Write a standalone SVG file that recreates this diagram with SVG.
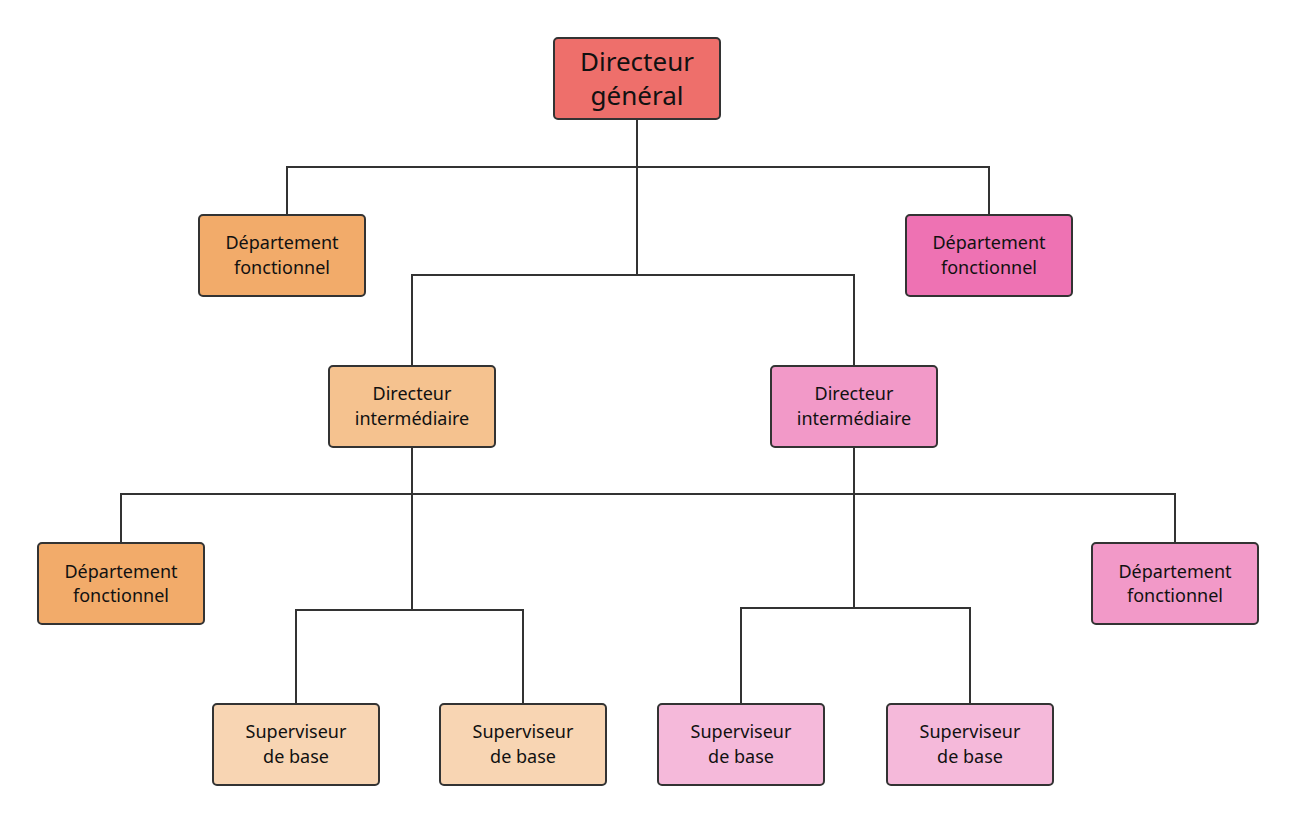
<svg xmlns="http://www.w3.org/2000/svg" width="1296" height="822" viewBox="0 0 1296 822">
<style>
.n{stroke:#333;stroke-width:2}
.t{font-family:"Noto Sans","Liberation Sans",sans-serif;font-size:18px;fill:#111;text-anchor:middle}
.c{fill:none;stroke:#333;stroke-width:2}
</style>
<rect width="1296" height="822" fill="#fff"/>
<g id="connectors" class="c">
<path d="M637 119V275M287 215V167H989V215M412 366V275H854V366"/>
<path d="M412 447V610M121 543V494H1175V543M854 447V608M296 704V610H523V704M741 704V608H970V704"/>
</g>
<g id="ceo"><rect class="n" x="554" y="38" width="166" height="81" rx="4" fill="#EE6F6B"/><text class="t" style="font-size:26px" x="637" y="71">Directeur</text><text class="t" style="font-size:26px" x="637" y="105">général</text></g>
<g id="deptL"><rect class="n" x="199" y="215" width="166" height="81" rx="4" fill="#F2AB6A"/><text class="t" x="282" y="249">Département</text><text class="t" x="282" y="274">fonctionnel</text></g>
<g id="deptR"><rect class="n" x="906" y="215" width="166" height="81" rx="4" fill="#EE72B3"/><text class="t" x="989" y="249">Département</text><text class="t" x="989" y="274">fonctionnel</text></g>
<g id="diL"><rect class="n" x="329" y="366" width="166" height="81" rx="4" fill="#F5C28F"/><text class="t" x="412" y="400">Directeur</text><text class="t" x="412" y="425">intermédiaire</text></g>
<g id="diR"><rect class="n" x="771" y="366" width="166" height="81" rx="4" fill="#F299C8"/><text class="t" x="854" y="400">Directeur</text><text class="t" x="854" y="425">intermédiaire</text></g>
<g id="deptBL"><rect class="n" x="38" y="543" width="166" height="81" rx="4" fill="#F2AB6A"/><text class="t" x="121" y="578">Département</text><text class="t" x="121" y="602">fonctionnel</text></g>
<g id="deptBR"><rect class="n" x="1092" y="543" width="166" height="81" rx="4" fill="#F299C8"/><text class="t" x="1175" y="578">Département</text><text class="t" x="1175" y="602">fonctionnel</text></g>
<g id="s1"><rect class="n" x="213" y="704" width="166" height="81" rx="4" fill="#F8D5B3"/><text class="t" x="296" y="738">Superviseur</text><text class="t" x="296" y="763">de base</text></g>
<g id="s2"><rect class="n" x="440" y="704" width="166" height="81" rx="4" fill="#F8D5B3"/><text class="t" x="523" y="738">Superviseur</text><text class="t" x="523" y="763">de base</text></g>
<g id="s3"><rect class="n" x="658" y="704" width="166" height="81" rx="4" fill="#F5B9DA"/><text class="t" x="741" y="738">Superviseur</text><text class="t" x="741" y="763">de base</text></g>
<g id="s4"><rect class="n" x="887" y="704" width="166" height="81" rx="4" fill="#F5B9DA"/><text class="t" x="970" y="738">Superviseur</text><text class="t" x="970" y="763">de base</text></g>
</svg>
